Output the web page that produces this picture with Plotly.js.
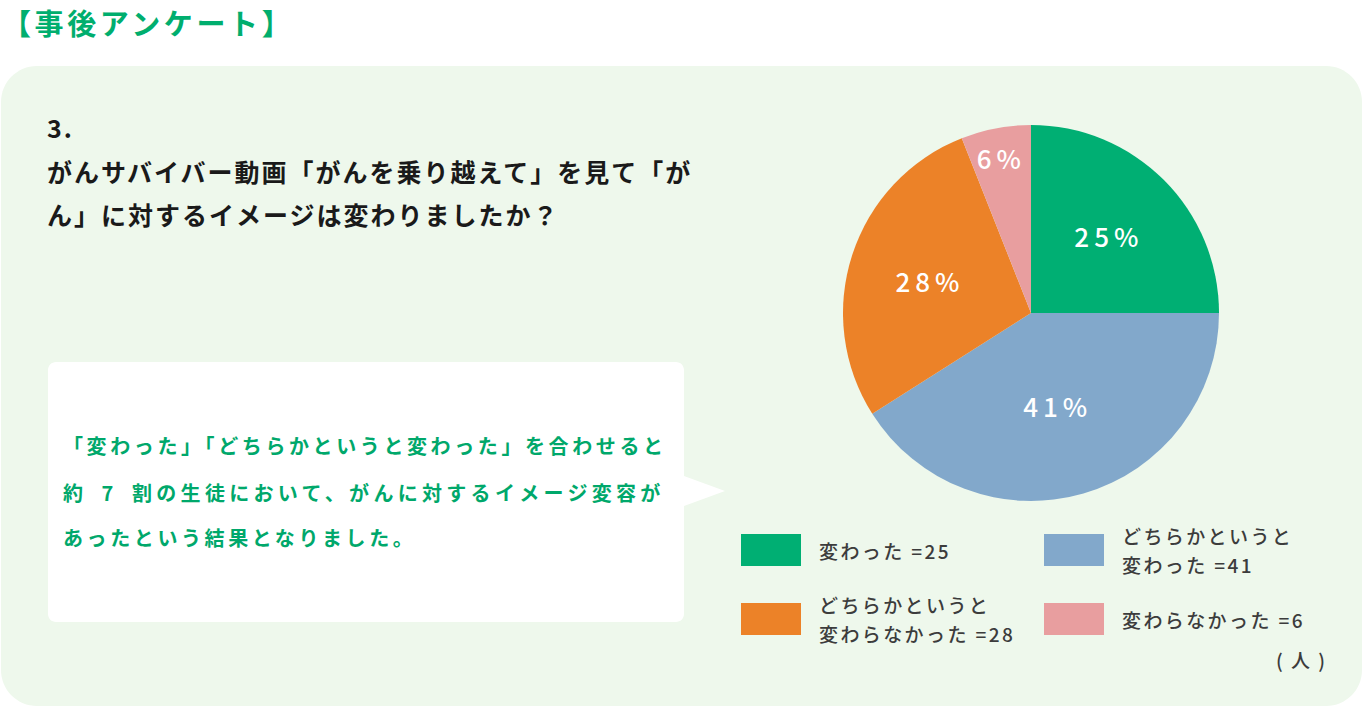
<!DOCTYPE html>
<html><head><meta charset="utf-8">
<script src="https://cdn.plot.ly/plotly-3.0.1.min.js"></script>
<style>html,body{margin:0;padding:0;background:#fff;overflow:hidden}#chart{width:1364px;height:717px}</style>
</head><body><div id="chart"></div>
<script>
// ---- data ----
const categories = ['変わった', 'どちらかというと変わった', 'どちらかというと変わらなかった', '変わらなかった'];
const counts = [25, 41, 28, 6];
const legendLabels = ['変わった', 'どちらかというと<br>変わった', 'どちらかというと<br>変わらなかった', '変わらなかった'];
const heading = '【事後アンケート】';
const questionLines = ['3.', 'がんサバイバー動画「がんを乗り越えて」を見て「が', 'ん」に対するイメージは変わりましたか？'];
const commentLines = ['「変わった」「どちらかというと変わった」を合わせると', '約\u20027\u2002割の生徒において、がんに対するイメージ変容が', 'あったという結果となりました。'];
const unitLabel = '( 人 )';

// ---- style ----
const sliceColors = ['#00AF73', '#82A8CB', '#EC8228', '#E89E9F'];
const W = 1364, H = 717;
const FONT = '"Noto Sans CJK JP", "Noto Sans", sans-serif';
const px = x => x / W;
const py = y => 1 - y / H;

function roundRectPath(x0, y0, x1, y1, r, pointer) {
  const k = 0.5523 * r;
  let p = `M${px(x0 + r)},${py(y0)} L${px(x1 - r)},${py(y0)} `;
  p += `C${px(x1 - r + k)},${py(y0)} ${px(x1)},${py(y0 + r - k)} ${px(x1)},${py(y0 + r)} `;
  if (pointer) {
    p += `L${px(x1)},${py(pointer.y0)} L${px(pointer.tx)},${py(pointer.ty)} L${px(x1)},${py(pointer.y1)} `;
  }
  p += `L${px(x1)},${py(y1 - r)} `;
  p += `C${px(x1)},${py(y1 - r + k)} ${px(x1 - r + k)},${py(y1)} ${px(x1 - r)},${py(y1)} `;
  p += `L${px(x0 + r)},${py(y1)} `;
  p += `C${px(x0 + r - k)},${py(y1)} ${px(x0)},${py(y1 - r + k)} ${px(x0)},${py(y1 - r)} `;
  p += `L${px(x0)},${py(y0 + r)} `;
  p += `C${px(x0)},${py(y0 + r - k)} ${px(x0 + r - k)},${py(y0)} ${px(x0 + r)},${py(y0)} Z`;
  return p;
}

const shapes = [
  {type: 'path', xref: 'paper', yref: 'paper', layer: 'below', path: roundRectPath(1, 66, 1362, 706, 36), fillcolor: '#EEF8EC', line: {width: 0}},
  {type: 'path', xref: 'paper', yref: 'paper', layer: 'below', path: roundRectPath(48, 362, 684, 622, 8, {y0: 476, tx: 725, ty: 491, y1: 506}), fillcolor: '#FFFFFF', line: {width: 0}}
];

const annotations = [];
const spacing = [];
function addText(text, x, y, size, color, weight, ls, xanchor) {
  annotations.push({xref: 'paper', yref: 'paper', x: px(x), y: py(y), xanchor: xanchor || 'left', yanchor: 'middle',
    align: 'left', showarrow: false, text: text, font: {family: FONT, size: size, color: color, weight: weight}});
  spacing.push(ls);
}

addText(heading, 0, 22, 29, '#00AE6E', 700, '3.6px');
questionLines.forEach((t, i) => addText(t, 45, [127, 171, 214][i], 25, '#1A1A1A', 700, '2px'));
commentLines.forEach((t, i) => addText(t, 61, [446, 492, 537][i], 20, '#00A86B', 700, ['3.6px', '4.3px', '3.6px'][i]));

// legend
counts.forEach((v, i) => {
  const col = i % 2, row = Math.floor(i / 2);
  const rx = 741 + col * 303, ry = 534 + row * 69;
  shapes.push({type: 'rect', xref: 'paper', yref: 'paper', x0: px(rx), x1: px(rx + 60), y0: py(ry), y1: py(ry + 32),
    fillcolor: sliceColors[i], line: {width: 0}});
  const lines = (legendLabels[i] + ' =' + v).split('<br>');
  const cy = ry + 16;
  lines.forEach((t, j) => {
    const y = lines.length === 1 ? cy : cy + (j - 0.5) * 29;
    addText(t, rx + 76, y, 19, '#3C3C3C', 500, '2.4px');
  });
});
addText(unitLabel, 1296, 659, 19, '#3C3C3C', 500, '2px', 'center');

const trace = {
  type: 'pie',
  labels: categories,
  values: counts,
  sort: false,
  direction: 'clockwise',
  rotation: 0,
  marker: {colors: sliceColors, line: {width: 0}},
  texttemplate: '%{percent:.0%}',
  textposition: 'inside',
  insidetextorientation: 'horizontal',
  textfont: {family: FONT, size: 26, color: '#FFFFFF', weight: 500},
  hoverinfo: 'none',
  showlegend: false,
  domain: {x: [px(1031 - 188), px(1031 + 188)], y: [py(313 + 188), py(313 - 188)]}
};

const layout = {
  width: W, height: H,
  margin: {l: 0, r: 0, t: 0, b: 0},
  paper_bgcolor: '#FFFFFF',
  plot_bgcolor: 'rgba(0,0,0,0)',
  showlegend: false,
  shapes: shapes,
  annotations: annotations,
  xaxis: {visible: false}, yaxis: {visible: false}
};

Plotly.newPlot('chart', [trace], layout, {displayModeBar: false, staticPlot: true}).then(gd => {
  gd.querySelectorAll('.annotation-text').forEach((el, i) => { if (spacing[i]) el.style.letterSpacing = spacing[i]; });
  gd.querySelectorAll('.slicetext').forEach(el => { el.style.letterSpacing = '5px'; });
});
</script>
</body></html>
